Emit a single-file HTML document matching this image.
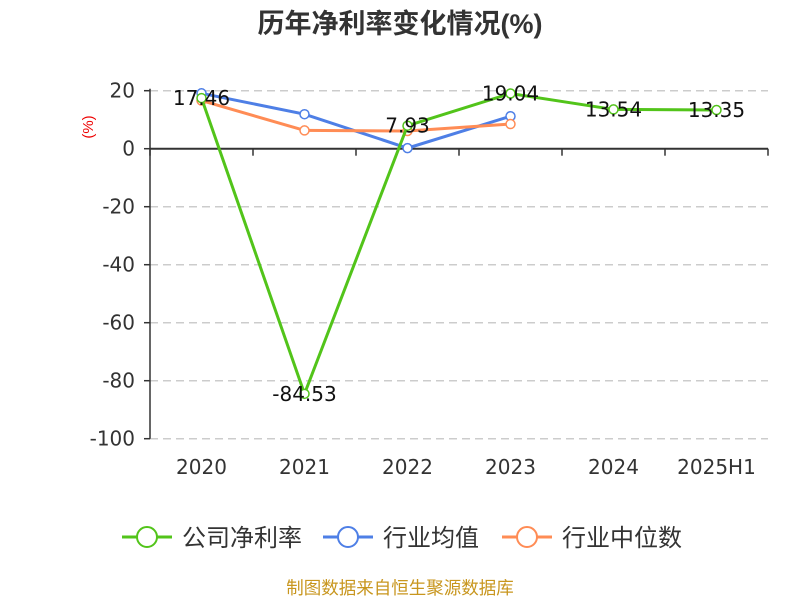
<!DOCTYPE html>
<html><head><meta charset="utf-8"><style>
body{margin:0;background:#fff;}
svg text{font-family:"Liberation Sans","Noto Sans CJK SC",sans-serif;}
svg text.d{font-family:"DejaVu Sans","Noto Sans CJK SC",sans-serif;}
</style></head><body>
<svg id="c" width="800" height="600" xmlns="http://www.w3.org/2000/svg">
<text x="400" y="33" text-anchor="middle" font-size="27" font-weight="bold" fill="#333">历年净利率变化情况(%)</text>
<text x="93" y="127" font-size="15" fill="#e00" transform="rotate(-90 93 127)" text-anchor="middle">(%)</text>
<g id="grid"></g><g id="axes"></g><g id="series"></g>
<g>
<g><line x1="122" y1="537" x2="172" y2="537" stroke="#52c41a" stroke-width="3"/><circle cx="147" cy="537" r="10" fill="#fff" stroke="#52c41a" stroke-width="2"/><text x="182" y="546" font-size="24" fill="#333">公司净利率</text></g>
<g><line x1="323" y1="537" x2="373" y2="537" stroke="#4e7fe6" stroke-width="3"/><circle cx="348" cy="537" r="10" fill="#fff" stroke="#4e7fe6" stroke-width="2"/><text x="383" y="546" font-size="24" fill="#333">行业均值</text></g>
<g><line x1="502" y1="537" x2="552" y2="537" stroke="#ff8c55" stroke-width="3"/><circle cx="527" cy="537" r="10" fill="#fff" stroke="#ff8c55" stroke-width="2"/><text x="562" y="546" font-size="24" fill="#333">行业中位数</text></g>
</g>
<text x="400" y="594" text-anchor="middle" font-size="17.5" fill="#c8961e">制图数据来自恒生聚源数据库</text>
</svg>
<script>
const categories=["2020","2021","2022","2023","2024","2025H1"];
const netMargin=[17.46,-84.53,7.93,19.04,13.54,13.35];
const netLabels=["17.46","-84.53","7.93","19.04","13.54","13.35"];
const industryAvg=[19.1,11.9,0.2,11.2];
const industryMedian=[16.6,6.3,6.1,8.5];
const yTicks=[20,0,-20,-40,-60,-80,-100];
const NS="http://www.w3.org/2000/svg";
const L=150,R=768,band=(R-L)/categories.length;
const x=i=>L+band*(i+0.5);
const y=v=>148.7-2.9*v;
function mk(t,a,p){const e=document.createElementNS(NS,t);for(const k in a)e.setAttribute(k,a[k]);p.appendChild(e);return e;}
const grid=document.getElementById('grid'),axes=document.getElementById('axes'),ser=document.getElementById('series');
yTicks.forEach(v=>{
 if(v!==0){const g=mk('line',{x1:L,x2:R,y1:y(v),y2:y(v),stroke:'#ccc','stroke-dasharray':'8,5','stroke-width':1.5},grid);
 
 }
 const t=mk('text',{x:135,y:y(v)+7,'text-anchor':'end','font-size':20,fill:'#333',class:'d'},axes);t.textContent=v;
 
 
 mk('line',{x1:L-6,x2:L,y1:y(v),y2:y(v),stroke:'#333','stroke-width':1.5},axes);
});
mk('line',{x1:L,x2:L,y1:y(20)-2,y2:y(-100),stroke:'#333','stroke-width':1.5},axes);
const xa=mk('line',{x1:L,x2:R,y1:y(0),y2:y(0),stroke:'#333','stroke-width':2},axes);


for(let i=0;i<=categories.length;i++)mk('line',{x1:L+band*i,x2:L+band*i,y1:y(0),y2:y(0)+7,stroke:'#333','stroke-width':1.5},axes);
categories.forEach((c,i)=>{const t=mk('text',{x:x(i),y:474,'text-anchor':'middle','font-size':20,fill:'#333',class:'d'},axes);t.textContent=c;
 
 });
function line(data,color,name){
 const p=mk('polyline',{points:data.map((v,i)=>x(i)+','+y(v)).join(' '),fill:'none',stroke:color,'stroke-width':3},ser);
 
 
 data.forEach((v,i)=>{const c=mk('circle',{cx:x(i),cy:y(v),r:4.5,fill:'#fff',stroke:color,'stroke-width':1.5},ser);
 
 });
}
line(industryAvg,'#4e7fe6','industry-avg');
line(industryMedian,'#ff8c55','industry-median');
line(netMargin,'#52c41a','net-margin');
netMargin.forEach((v,i)=>{const t=mk('text',{x:x(i),y:y(v)+7,'text-anchor':'middle','font-size':20,fill:'#111',class:'d'},ser);t.textContent=netLabels[i];
 
 });
</script>
</body></html>
